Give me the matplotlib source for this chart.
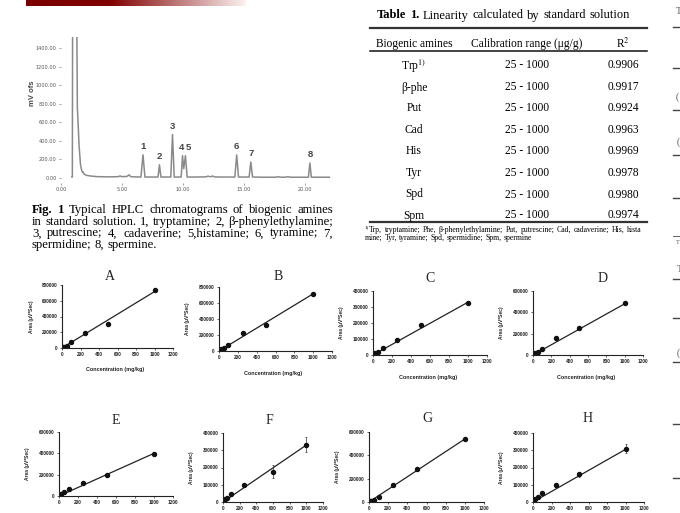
import matplotlib
matplotlib.use('Agg')
import matplotlib.pyplot as plt
import numpy as np
from matplotlib.colors import LinearSegmentedColormap
from matplotlib.lines import Line2D

plt.rcParams['mathtext.fontset'] = 'stix'

# ---------------- data ----------------
# chromatogram trace (time in min, signal in mV)
t_trace = [0.90, 0.93, 0.95, 1.30, 1.34, 1.40, 1.48, 1.60, 1.70, 1.78, 1.83, 1.90, 2.10, 2.50,
           3.00, 4.00, 4.70, 4.84, 4.98, 5.40, 5.57, 5.72, 6.00, 6.55, 6.72, 6.88, 7.95, 8.07,
           8.19, 9.00, 9.14, 9.28, 9.85, 9.96, 10.06, 10.20, 10.34, 11.00, 11.90, 12.05, 12.20,
           12.30, 12.42, 12.55, 13.00, 14.25, 14.40, 14.55, 15.42, 15.56, 15.70, 16.50, 17.60,
           17.80, 18.00, 18.40, 18.60, 18.80, 20.28, 20.40, 20.52, 21.20, 22.00]
mv_trace = [10, 10, 1600, 1600, 760, 600, 350, 140, 80, 60, 62, 40, 28, 20,
            14, 12, 14, 22, 14, 16, 34, 14, 12, 10, 250, 10, 10, 142,
            10, 10, 469, 10, 10, 240, 100, 240, 10, 10, 12, 20, 14,
            14, 22, 12, 10, 10, 248, 10, 10, 172, 10, 8, 8,
            14, 8, 8, 14, 8, 8, 161, 8, 8, 8]
peak_labels = ['1', '2', '3', '4', '5', '6', '7', '8']
peak_label_t = [6.72, 8.07, 9.14, 9.90, 10.40, 14.40, 15.60, 20.40]
peak_heights = [250, 142, 469, 240, 240, 248, 172, 161]
chrom_xticks = [0, 5, 10, 15, 20]
chrom_yticks = [0, 200, 400, 600, 800, 1000, 1200, 1400]

# table
tbl_amines = ['Trp$^{1)}$', 'β-phe', 'Put', 'Cad', 'His', 'Tyr', 'Spd', 'Spm']
tbl_range = ['25 - 1000'] * 8
tbl_r2 = ['0.9906', '0.9917', '0.9924', '0.9963', '0.9969', '0.9978', '0.9980', '0.9974']

# calibration curves
panel_names = ['A', 'B', 'C', 'D', 'E', 'F', 'G', 'H']
conc_std = [10, 25, 50, 100, 250, 500, 1000]
conc_F = [10, 25, 50, 100, 250, 600, 1000]
A_y = [8000, 17000, 25000, 75000, 190000, 305000, 740000]
B_y = [8000, 20000, 35000, 80000, 225000, 330000, 710000]
C_y = [5000, 10000, 16000, 42000, 95000, 187000, 328000]
D_y = [8000, 15000, 25000, 60000, 155000, 255000, 484000]
E_y = [10000, 20000, 35000, 62000, 124000, 200000, 398000]
F_y = [8000, 15000, 22000, 48000, 100000, 175000, 333000]
G_y = [6000, 12000, 20000, 43000, 143000, 280000, 542000]
H_y = [12000, 20000, 30000, 50000, 100000, 160000, 309000]
A_err = [2000, 3000, 4000, 8000, 12000, 15000, 15000]
B_err = [2000, 3000, 4000, 8000, 20000, 15000, 15000]
C_err = [1000, 1500, 2000, 5000, 8000, 10000, 8000]
D_err = [1500, 2000, 3000, 6000, 12000, 15000, 15000]
E_err = [1500, 2000, 3000, 5000, 10000, 8000, 10000]
F_err = [2000, 3000, 4000, 6000, 12000, 38000, 42000]
G_err = [1000, 2000, 3000, 5000, 10000, 12000, 15000]
H_err = [2000, 3000, 4000, 6000, 10000, 16000, 25000]
fit_slope = [716, 715, 330, 480, 400, 330, 540, 305]
y_max = [800000, 800000, 400000, 600000, 600000, 400000, 600000, 400000]
y_step = [200000, 200000, 100000, 200000, 200000, 100000, 200000, 100000]
x_ticks_cal = [0, 200, 400, 600, 800, 1000, 1200]

# ---------------- layout helpers ----------------
W, H = 680, 513
fig = plt.figure(figsize=(6.8, 5.13), dpi=100)
fig.patch.set_facecolor('white')


def fx(x):
    return x / W


def fy(y):
    return 1 - y / H


def ax_px(l, t, r, b):
    return fig.add_axes([l / W, 1 - b / H, (r - l) / W, (b - t) / H])


R = fig.canvas.get_renderer()
SERIF = 'Liberation Serif'
SANS = 'Liberation Sans'


def text_width(s, size, family, weight='normal'):
    t = fig.text(0, 0, s, fontsize=size, family=family, weight=weight)
    w = t.get_window_extent(R).width
    t.remove()
    return w


def place_words(words, x0, x1, yc, size, family, justify=True, color='black'):
    objs = []
    for w, wt in words:
        objs.append(fig.text(0, fy(yc), w, fontsize=size, family=family, weight=wt,
                             va='center_baseline', ha='left', color=color))
    widths = [o.get_window_extent(R).width for o in objs]
    n = len(objs)
    space = text_width('a b', size, family) - text_width('ab', size, family)
    if justify and n > 1:
        gap = (x1 - x0 - sum(widths)) / (n - 1)
    else:
        gap = space
    x = x0
    for o, w in zip(objs, widths):
        o.set_x(fx(x))
        x += w + gap


def split_words(s, bold_first=0):
    ws = s.split(' ')
    return [(w, 'bold' if i < bold_first else 'normal') for i, w in enumerate(ws)]


# ---------------- red header bar ----------------
bar = ax_px(26, 0, 245, 6)
cmap = LinearSegmentedColormap.from_list('bar', [(0, '#7a0000'), (0.38, '#800000'),
                                                 (0.7, '#c07c7c'), (1, '#fbf2f2')])
bar.imshow(np.linspace(0, 1, 256)[None, :], aspect='auto', cmap=cmap)
bar.axis('off')

# ---------------- chromatogram ----------------
axc = ax_px(61, 37, 335.5, 182.6)
axc.plot(t_trace, mv_trace, color='#8a8a8a', lw=1.1)
axc.set_xlim(0, 22.5)
axc.set_ylim(-50, 1520)
for s in axc.spines.values():
    s.set_visible(False)
axc.set_xticks(chrom_xticks)
axc.set_xticklabels(['%.2f' % v for v in chrom_xticks])
axc.set_yticks(chrom_yticks)
axc.set_yticklabels(['%.2f' % v for v in chrom_yticks])
axc.tick_params(labelsize=3.6, length=1.5, width=0.5, color='#777', labelcolor='#555', pad=1.5)
for lab, t, h in zip(peak_labels, peak_label_t, peak_heights):
    axc.text(t, h + 40, lab, ha='center', va='bottom', fontsize=6.8, weight='bold',
             family=SANS, color='#444')
fig.text(fx(33), fy(93), 'mV ofs', rotation=90, fontsize=5.5, weight='bold', family=SANS,
         color='#444', ha='center', va='center')

# ---------------- figure caption ----------------
cap_lines = ['Fig. 1 Typical HPLC chromatograms of biogenic amines',
             'in standard solution. 1, tryptamine; 2, β-phenylethylamine;',
             '3, putrescine; 4, cadaverine; 5,histamine; 6, tyramine; 7,',
             'spermidine; 8, spermine.']
cap_size = 9.1
cap_y = [208.5, 220.2, 231.9, 243.6]
for i, (ln, yy) in enumerate(zip(cap_lines, cap_y)):
    place_words(split_words(ln, 2 if i == 0 else 0), 32, 333, yy, cap_size, SERIF,
                justify=(i < 3))

# ---------------- table ----------------
title_words = split_words('Table 1. Linearity calculated by standard solution', 2)
place_words(title_words, 377, 630, 14, 9.0, SERIF, justify=True)

for yy, lw, c in [(28, 1.6, '#333'), (51, 1.1, '#111'), (222, 1.6, '#333')]:
    fig.add_artist(Line2D([fx(370), fx(647)], [fy(yy), fy(yy)], lw=lw, color=c))

ts = 8.3
col_x = [414, 527, 623]
fig.text(fx(col_x[0]), fy(42), 'Biogenic amines', fontsize=ts, family=SERIF, ha='center',
         va='center_baseline')
fig.text(fx(col_x[1]), fy(42), 'Calibration range (μg/g)', fontsize=ts, family=SERIF,
         ha='center', va='center_baseline')
fig.text(fx(col_x[2]), fy(42), 'R$^{2}$', fontsize=ts, family=SERIF, ha='center',
         va='center_baseline')
row_y = [64, 86, 107, 128.5, 150, 171.5, 193, 214]
for a, rg, r2, yy in zip(tbl_amines, tbl_range, tbl_r2, row_y):
    fig.text(fx(col_x[0]), fy(yy), a, fontsize=ts, family=SERIF, ha='center', va='center_baseline')
    fig.text(fx(col_x[1]), fy(yy), rg, fontsize=ts, family=SERIF, ha='center', va='center_baseline')
    fig.text(fx(col_x[2]), fy(yy), r2, fontsize=ts, family=SERIF, ha='center', va='center_baseline')

foot1 = 'Trp, tryptamine; Phe, β-phenylethylamine; Put, putrescine; Cad, cadaverine; His, hista'
foot2 = 'mine; Tyr, tyramine; Spd, spermidine; Spm, spermine'
f10 = text_width(foot1, 10, SERIF)
foot_size = 10 * 268 / f10
sup = fig.text(fx(365), fy(226.5), '1)', fontsize=foot_size * 0.65, family=SERIF,
               ha='left', va='center_baseline')
sup_w = sup.get_window_extent(R).width
place_words(split_words(foot1), 365 + sup_w, 642, 228.8, foot_size, SERIF, justify=True)
place_words(split_words(foot2), 365, 642, 237.3, foot_size, SERIF, justify=False)

# ---------------- right page edge fragments ----------------
for yy in [27, 68, 110, 155, 198, 279, 318, 362, 424, 478]:
    fig.add_artist(Line2D([fx(673), fx(681)], [fy(yy), fy(yy)], lw=1.0, color='#444'))
fig.add_artist(Line2D([fx(673), fx(681)], [fy(236), fy(236)], lw=0.6, color='#444'))
for (xx, yy, s, sz) in [(676, 12, 'T', 7), (675.5, 97, '(', 7), (676.5, 142, '(', 7),
                        (676, 243, 'T', 4.5), (676.5, 269, 'T', 7), (677, 353, '(', 7)]:
    fig.text(fx(xx), fy(yy), s, fontsize=sz, family=SERIF, ha='left', va='center', color='#555')

# ---------------- calibration panels ----------------
boxes = [(62, 285, 173, 348), (219, 287, 332, 351), (373, 291, 487, 355), (533, 291, 643, 355),
         (59, 432, 173, 496), (223, 433, 323, 502), (369, 432, 484, 502), (533, 433, 644, 502)]
title_pos = [(110, 276), (278, 276), (430, 279), (603, 279),
             (116, 420), (269, 420), (427, 419), (588, 419)]
ys = [A_y, B_y, C_y, D_y, E_y, F_y, G_y, H_y]
errs = [A_err, B_err, C_err, D_err, E_err, F_err, G_err, H_err]
concs = [conc_std, conc_std, conc_std, conc_std, conc_std, conc_F, conc_std, conc_std]

for i in range(8):
    l, t, r, b = boxes[i]
    ax = ax_px(l, t, r, b)
    x = concs[i]
    ax.plot([0, 1000], [0, fit_slope[i] * 1000], color='#222', lw=0.9)
    ax.errorbar(x, ys[i], yerr=errs[i], fmt='o', ms=2.9, color='#111', ecolor='#333',
                elinewidth=0.5, capsize=0.8, capthick=0.5)
    ax.set_xlim(0, 1200)
    ax.set_ylim(0, y_max[i])
    ax.set_xticks(x_ticks_cal)
    yt = list(range(0, y_max[i] + 1, y_step[i]))
    ax.set_yticks(yt)
    ax.set_yticklabels([str(v) for v in yt])
    for s in ['top', 'right']:
        ax.spines[s].set_visible(False)
    for s in ['left', 'bottom']:
        ax.spines[s].set_linewidth(0.8)
        ax.spines[s].set_color('#222')
        ax.spines[s].set_clip_on(False)
    ax.tick_params(labelsize=3.4, length=1.5, width=0.5, pad=1.5, colors='#222')
    for lab in ax.get_xticklabels() + ax.get_yticklabels():
        lab.set_fontweight('bold')
        lab.set_family(SANS)
    ax.patch.set_alpha(0)
    if b + 22 < H - 3:
        fig.text(fx((l + r) / 2 - 2), fy(b + 22), 'Concentration (mg/kg)', fontsize=3.9,
                 weight='bold', family=SANS, ha='center', va='center', color='#222')
    fig.text(fx(l - 31), fy((t + b) / 2), 'Area (μV*Sec)', fontsize=3.5, weight='bold',
             family=SANS, ha='center', va='center', rotation=90, color='#222')
    tx, ty = title_pos[i]
    fig.text(fx(tx), fy(ty), panel_names[i], fontsize=10, family=SERIF, ha='center',
             va='center', color='#222')

fig.savefig('out.png', dpi=100, facecolor='white')
